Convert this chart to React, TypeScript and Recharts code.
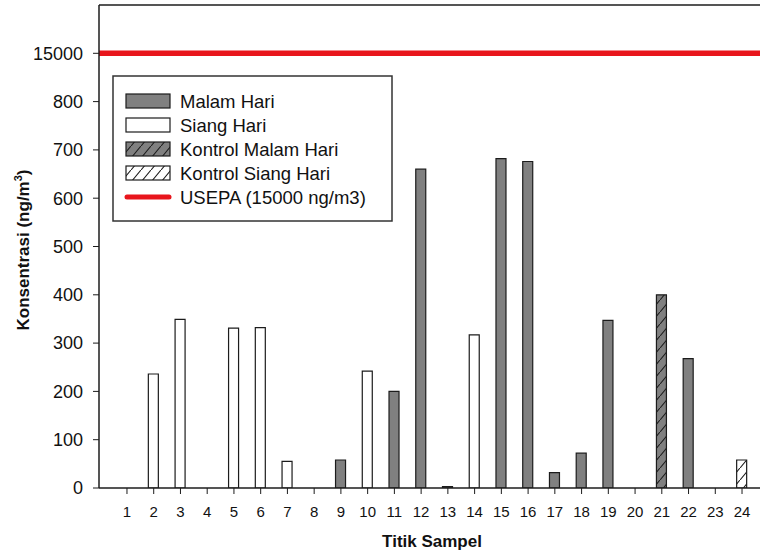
import React from 'react';
import { ComposedChart, Bar, XAxis, YAxis, ReferenceLine, Label } from 'recharts';

const titik = ['1', '2', '3', '4', '5', '6', '7', '8', '9', '10', '11', '12', '13', '14', '15', '16', '17', '18', '19', '20', '21', '22', '23', '24'];
const malamHari = [null, null, null, null, null, null, null, null, 58, null, 200, 660, 3, null, 682, 676, 32, 72, 347, null, null, 268, null, null];
const siangHari = [null, 236, 349, null, 331, 332, 55, null, null, 242, null, null, null, 317, null, null, null, null, null, null, null, null, null, null];
const kontrolMalamHari = [null, null, null, null, null, null, null, null, null, null, null, null, null, null, null, null, null, null, null, null, 400, null, null, null];
const kontrolSiangHari = [null, null, null, null, null, null, null, null, null, null, null, null, null, null, null, null, null, null, null, null, null, null, null, 58];

// y axis is broken: the USEPA limit is drawn one step above 800
const usepaLimit = 15000;
const breakTick = 900;
const yTop = 1000;
const yTicks = [0, 100, 200, 300, 400, 500, 600, 700, 800, breakTick];

const GRAY = '#808080';
const INK = '#1c1c1c';
const RED = '#e8151c';

const data = titik.map((t, i) => ({
  titik: t,
  malam: malamHari[i],
  siang: siangHari[i],
  kMalam: kontrolMalamHari[i],
  kSiang: kontrolSiangHari[i],
}));

const legendItems = [
  { name: 'Malam Hari', fill: GRAY },
  { name: 'Siang Hari', fill: '#fff' },
  { name: 'Kontrol Malam Hari', fill: 'url(#lgHatchGray)' },
  { name: 'Kontrol Siang Hari', fill: 'url(#lgHatchWhite)' },
  { name: `USEPA (${usepaLimit} ng/m3)`, line: true },
];

const Hatch = ({ id, bg }: { id: string; bg: string }) => (
  <pattern id={id} patternUnits="userSpaceOnUse" width={10} height={12}>
    <rect width={10} height={12} fill={bg} />
    <path d="M0,12 L10,0" stroke={INK} strokeWidth={1.1} strokeLinecap="square" />
  </pattern>
);

const YLabel = () => {
  const cx = 29;
  const cy = 250;
  return (
    <text
      x={cx}
      y={cy}
      transform={`rotate(-90 ${cx} ${cy})`}
      textAnchor="middle"
      fontSize={17}
      fontWeight="bold"
      fill="#111"
    >
      Konsentrasi (ng/m
      <tspan dy={-7} fontSize={11}>3</tspan>
      <tspan dy={7}>)</tspan>
    </text>
  );
};

const XLabel = () => (
  <text x={432} y={547} textAnchor="middle" fontSize={17} fontWeight="bold" fill="#111">
    Titik Sampel
  </text>
);

const ChartLegend = () => (
  <svg width={284} height={150} style={{ position: 'absolute', left: 111, top: 74 }}>
    <defs>
      <Hatch id="lgHatchGray" bg={GRAY} />
      <Hatch id="lgHatchWhite" bg="#fff" />
    </defs>
    <rect x={2} y={2} width={279} height={145} fill="#fff" stroke="#333" strokeWidth={1.5} />
    {legendItems.map((item, i) => {
      const cy = 27 + i * 24;
      return (
        <g key={item.name}>
          {item.line ? (
            <line x1={16} x2={58} y1={cy} y2={cy} stroke={RED} strokeWidth={5} strokeLinecap="round" />
          ) : (
            <rect x={15} y={cy - 7} width={44} height={14} fill={item.fill} stroke={INK} strokeWidth={1.2} />
          )}
          <text x={69} y={cy + 6.5} fontSize={18.5} fill="#111">
            {item.name}
          </text>
        </g>
      );
    })}
  </svg>
);

export default function App() {
  return (
    <div
      style={{
        position: 'absolute',
        left: 0,
        top: 0,
        width: 760,
        height: 552,
        overflow: 'hidden',
        background: '#fff',
        fontFamily: '"Liberation Sans", Arial, sans-serif',
      }}
    >
      <ComposedChart width={780} height={552} data={data} margin={{ top: 5, right: 10, bottom: 0, left: 0 }}>
        <defs>
          <Hatch id="hatchGray" bg={GRAY} />
          <Hatch id="hatchWhite" bg="#fff" />
        </defs>
        <XAxis
          dataKey="titik"
          height={64}
          padding={{ left: 14.6, right: 14.6 }}
          tickSize={6}
          tickMargin={12}
          tick={{ fontSize: 15, fill: '#111' }}
          tickLine={{ stroke: INK }}
          axisLine={{ stroke: INK, strokeWidth: 1.5 }}
          interval={0}
        >
          <Label content={<XLabel />} />
        </XAxis>
        <YAxis
          width={99}
          domain={[0, yTop]}
          ticks={yTicks}
          allowDataOverflow
          tickSize={6}
          tickMargin={10}
          tickFormatter={(v: number) => (v === breakTick ? String(usepaLimit) : String(v))}
          tick={{ fontSize: 18, fill: '#111' }}
          tickLine={{ stroke: INK }}
          axisLine={{ stroke: INK, strokeWidth: 1.5 }}
        >
          <Label content={<YLabel />} />
        </YAxis>
        <ReferenceLine y={yTop} stroke={INK} strokeWidth={1.5} />
        <Bar dataKey="malam" stackId="s" barSize={10} fill={GRAY} stroke={INK} strokeWidth={1.2} isAnimationActive={false} />
        <Bar dataKey="siang" stackId="s" barSize={10} fill="#fff" stroke={INK} strokeWidth={1.2} isAnimationActive={false} />
        <Bar dataKey="kMalam" stackId="s" barSize={10} fill="url(#hatchGray)" stroke={INK} strokeWidth={1.2} isAnimationActive={false} />
        <Bar dataKey="kSiang" stackId="s" barSize={10} fill="url(#hatchWhite)" stroke={INK} strokeWidth={1.2} isAnimationActive={false} />
        <ReferenceLine y={breakTick} stroke={RED} strokeWidth={5.5} />
      </ComposedChart>
      <ChartLegend />
    </div>
  );
}
